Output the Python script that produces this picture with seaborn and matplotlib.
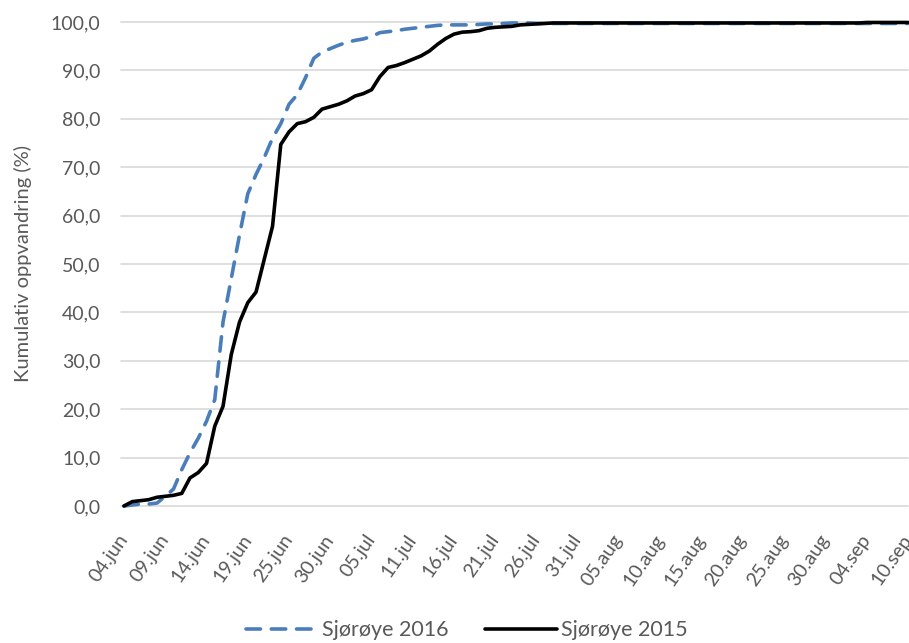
import pandas as pd
import numpy as np
import matplotlib
matplotlib.use("Agg")
import matplotlib.pyplot as plt
import matplotlib.transforms as mtransforms
import seaborn as sns

# category axis: daily dates 04.jun - 10.sep with three days missing
all_days = pd.date_range("2015-06-04", "2015-09-10", freq="D")
missing_days = pd.to_datetime(["2015-06-22", "2015-07-08", "2015-09-07"])
days = all_days[~all_days.isin(missing_days)]
day_labels = [f"{d.day:02d}.{d.strftime('%b').lower()}" for d in days]

sjoroye_2016 = [
    0.0, 0.2, 0.4, 0.4, 0.6, 2.0, 3.5, 7.5, 11.0, 14.0,
    17.5, 22.0, 38.0, 47.0, 56.0, 64.5, 68.5, 72.0, 76.0, 79.0,
    83.0, 85.0, 88.5, 92.5, 93.8, 94.5, 95.2, 95.8, 96.2, 96.5,
    97.0, 97.8, 98.0, 98.2, 98.5, 98.7, 98.9, 99.1, 99.3, 99.4,
    99.4, 99.4, 99.4, 99.5, 99.6, 99.6, 99.7, 99.8, 99.8, 99.8,
    99.7, 99.7, 99.7, 99.7, 99.7, 99.7, 99.7, 99.7, 99.7, 99.7,
    99.7, 99.7, 99.7, 99.7, 99.7, 99.7, 99.7, 99.7, 99.7, 99.7,
    99.7, 99.7, 99.7, 99.7, 99.7, 99.7, 99.7, 99.7, 99.7, 99.7,
    99.7, 99.7, 99.7, 99.7, 99.7, 99.7, 99.7, 99.7, 99.7, 99.7,
    99.7, 99.7, 99.7, 99.7, 99.7, 99.7,
]
sjoroye_2015 = [
    0.0, 0.9, 1.1, 1.3, 1.8, 2.0, 2.2, 2.6, 5.8, 6.9,
    8.8, 16.5, 20.6, 31.3, 38.0, 42.0, 44.2, 51.0, 57.8, 74.7,
    77.3, 79.0, 79.4, 80.3, 82.0, 82.5, 83.0, 83.7, 84.7, 85.2,
    86.0, 88.7, 90.6, 91.0, 91.6, 92.3, 93.0, 94.0, 95.4, 96.6,
    97.5, 97.9, 98.0, 98.2, 98.7, 98.9, 99.0, 99.1, 99.4, 99.5,
    99.6, 99.7, 99.8, 99.8, 99.8, 99.8, 99.8, 99.8, 99.8, 99.8,
    99.8, 99.8, 99.8, 99.8, 99.8, 99.8, 99.8, 99.8, 99.8, 99.8,
    99.8, 99.8, 99.8, 99.8, 99.8, 99.8, 99.8, 99.8, 99.8, 99.8,
    99.8, 99.8, 99.8, 99.8, 99.8, 99.8, 99.8, 99.8, 99.8, 99.8,
    99.9, 99.9, 99.9, 99.9, 99.9, 99.9,
]

df = pd.DataFrame({"idx": np.arange(len(days)),
                   "Sjørøye 2016": sjoroye_2016,
                   "Sjørøye 2015": sjoroye_2015})

sns.set_theme(style="white")
plt.rcParams["font.family"] = ["Lato", "DejaVu Sans"]
grey = "#595959"

fig = plt.figure(figsize=(9.09, 6.43), dpi=100)
ax = fig.add_axes([0.1364, 0.2131, 0.8625, 0.7527])

for y in range(0, 101, 10):
    ax.axhline(y, xmin=-0.004, color="#d9d9d9", lw=1.2, zorder=0, clip_on=False)

sns.lineplot(data=df, x="idx", y="Sjørøye 2016", ax=ax, color="#4a7ebb", lw=2.6,
             label="Sjørøye 2016", clip_on=False)
ax.lines[-1].set_dashes((4, 3))
ax.lines[-1].set_dash_capstyle("round")
sns.lineplot(data=df, x="idx", y="Sjørøye 2015", ax=ax, color="black", lw=2.6,
             label="Sjørøye 2015", clip_on=False)

ax.set_xlim(0, len(days) - 1)
ax.set_ylim(0, 100)
ticks = np.arange(0, len(days), 5)
ax.set_xticks(ticks)
ax.set_xticklabels([day_labels[i] for i in ticks], rotation=55, ha="right", va="center",
                   rotation_mode="anchor", color=grey, fontsize=14)
shift = mtransforms.ScaledTranslation(0.03, 0, fig.dpi_scale_trans)
for lab in ax.get_xticklabels():
    lab.set_transform(lab.get_transform() + shift)
ax.set_yticks(range(0, 101, 10))
ax.set_yticklabels([f"{v},0" for v in range(0, 101, 10)], color=grey, fontsize=14)
ax.tick_params(axis="x", length=0, pad=22)
ax.tick_params(axis="y", length=0, pad=17)
ax.set_xlabel("")
ax.set_ylabel("Kumulativ oppvandring (%)", color=grey, fontsize=14.5)
ax.yaxis.set_label_coords(-0.117, 0.5)
for s in ax.spines.values():
    s.set_visible(False)

ax.legend(loc="center", bbox_to_anchor=(0.514, 0.02), bbox_transform=fig.transFigure,
          ncol=2, frameon=False, fontsize=15.5, labelcolor=grey, handlelength=3.3,
          handletextpad=0.23, columnspacing=1.7)

fig.savefig("out.png", dpi=100)
